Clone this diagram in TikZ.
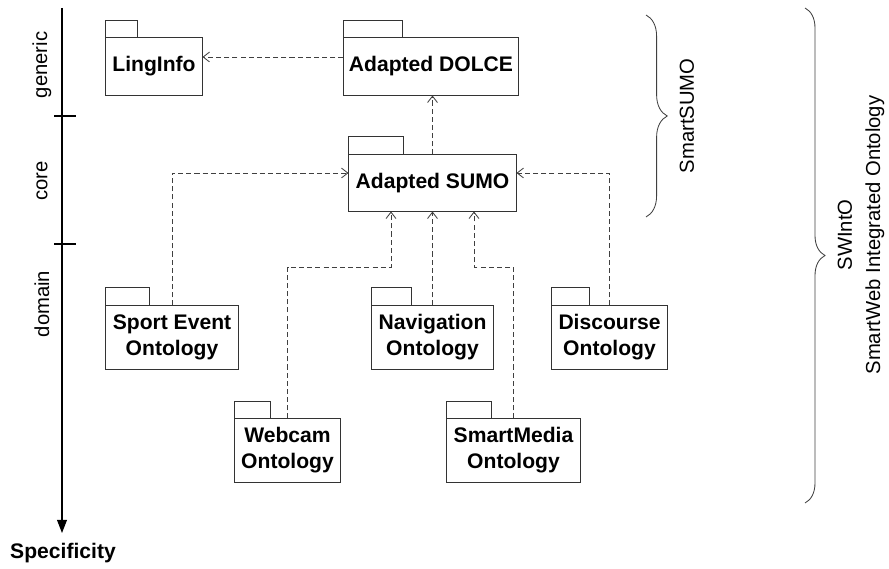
\documentclass[tikz,border=0pt]{standalone}
\usepackage{fontspec}
\setmainfont{Liberation Sans}
\usepackage{tikz}
\usetikzlibrary{calc}
\usetikzlibrary{arrows.meta,decorations.pathreplacing}
\tikzstyle{pkg} = [draw=black!80, line width=0.7pt, fill=white, inner sep=0pt, align=center, font=\bfseries\fontsize{15}{18.5}\selectfont]
\tikzstyle{pkgtab} = [draw=black!80, line width=0.7pt]
\tikzstyle{dep} = [draw=black!75, line width=0.6pt, dash pattern=on 3.6pt off 2.2pt, -{Straight Barb[length=4.5pt,width=7pt]}]
\tikzstyle{lvl} = [rotate=90, align=center, font=\fontsize{14.4}{20}\selectfont]
\tikzstyle{grp} = [draw=black!75, line width=0.6pt, decorate, decoration={brace, amplitude=0.53cm}]

\begin{document}
\begin{tikzpicture}[x=0.025cm, y=-0.025cm]
	\useasboundingbox (0,0) rectangle (889,569);

	% axis
	\coordinate (axtop) at (62,8);
	\coordinate (axtip) at (62,533);
	\draw[line width=0.8pt, -{Triangle[length=9.3pt,width=7pt]}] (axtop) -- (axtip);
	\draw[line width=0.8pt] (54,116) -- (76,116);
	\draw[line width=0.8pt] (54,244) -- (76,244);

	\node[lvl] (generic) at (42,65) {generic};
	\node[lvl] (core) at (42,181) {core};
	\node[lvl] (domain) at (42,304) {domain};
	\node[font=\bfseries\fontsize{15}{18}\selectfont] (spec) at (63,553) {Specificity};

	% packages
	\node[pkg, minimum width=2.4cm, minimum height=1.425cm] (ling) at (154,66.5) {LingInfo};
	\draw[pkgtab] (ling.north west) rectangle ++(32,-17);
	\node[pkg, minimum width=4.35cm, minimum height=1.425cm] (dolce) at (431,66.5) {Adapted DOLCE};
	\draw[pkgtab] (dolce.north west) rectangle ++(59,-17);
	\node[pkg, minimum width=4.175cm, minimum height=1.4cm] (sumo) at (432.5,183) {Adapted SUMO};
	\draw[pkgtab] (sumo.north west) rectangle ++(55,-18);

	\node[pkg, minimum width=3.3cm, minimum height=1.575cm] (sport) at (172,337.5) {Sport Event\\ Ontology};
	\draw[pkgtab] (sport.north west) rectangle ++(44,-18);
	\node[pkg, minimum width=3.025cm, minimum height=1.575cm] (nav) at (432.5,337.5) {Navigation\\Ontology};
	\draw[pkgtab] (nav.north west) rectangle ++(40,-18);
	\node[pkg, minimum width=2.875cm, minimum height=1.575cm] (disc) at (609.5,337.5) {Discourse\\ Ontology};
	\draw[pkgtab] (disc.north west) rectangle ++(38,-18);
	\node[pkg, minimum width=2.625cm, minimum height=1.575cm] (webcam) at (287.5,450.5) {Webcam\\Ontology};
	\draw[pkgtab] (webcam.north west) rectangle ++(36,-17);
	\node[pkg, minimum width=3.325cm, minimum height=1.575cm] (media) at (513.5,450.5) {SmartMedia\\ Ontology};
	\draw[pkgtab] (media.north west) rectangle ++(45,-17);

	% dependencies
	\draw[dep] ($(dolce.west)+(0,-9.5)$) -- ($(ling.east)+(0,-9.5)$);
	\draw[dep] (sumo.north) -- (sumo.north |- dolce.south);
	\draw[dep] (sport.north) |- ($(sumo.west)+(0,-10)$);
	\coordinate (webbend) at (391,267);
	\draw[dep] (webcam.north) |- (webbend) -- (webbend |- sumo.south);
	\draw[dep] (nav.north) -- (sumo.south);
	\coordinate (mediabend) at (474,267);
	\draw[dep] (media.north) |- (mediabend) -- (mediabend |- sumo.south);
	\draw[dep] (disc.north) |- ($(sumo.east)+(0,-10)$);

	% groups
	\coordinate (ssA) at (646,15);
	\coordinate (ssB) at (646,217);
	\draw[grp] (ssA) -- (ssB);
	\node[lvl] (smartsumo) at (687,116) {SmartSUMO};
	\coordinate (swA) at (805,8);
	\coordinate (swB) at (805,503);
	\draw[grp, decoration={brace, amplitude=0.5cm}] (swA) -- (swB);
	\node[lvl] (swinto) at (861,235) {SWIntO\\SmartWeb Integrated Ontology};

\end{tikzpicture}
\end{document}
